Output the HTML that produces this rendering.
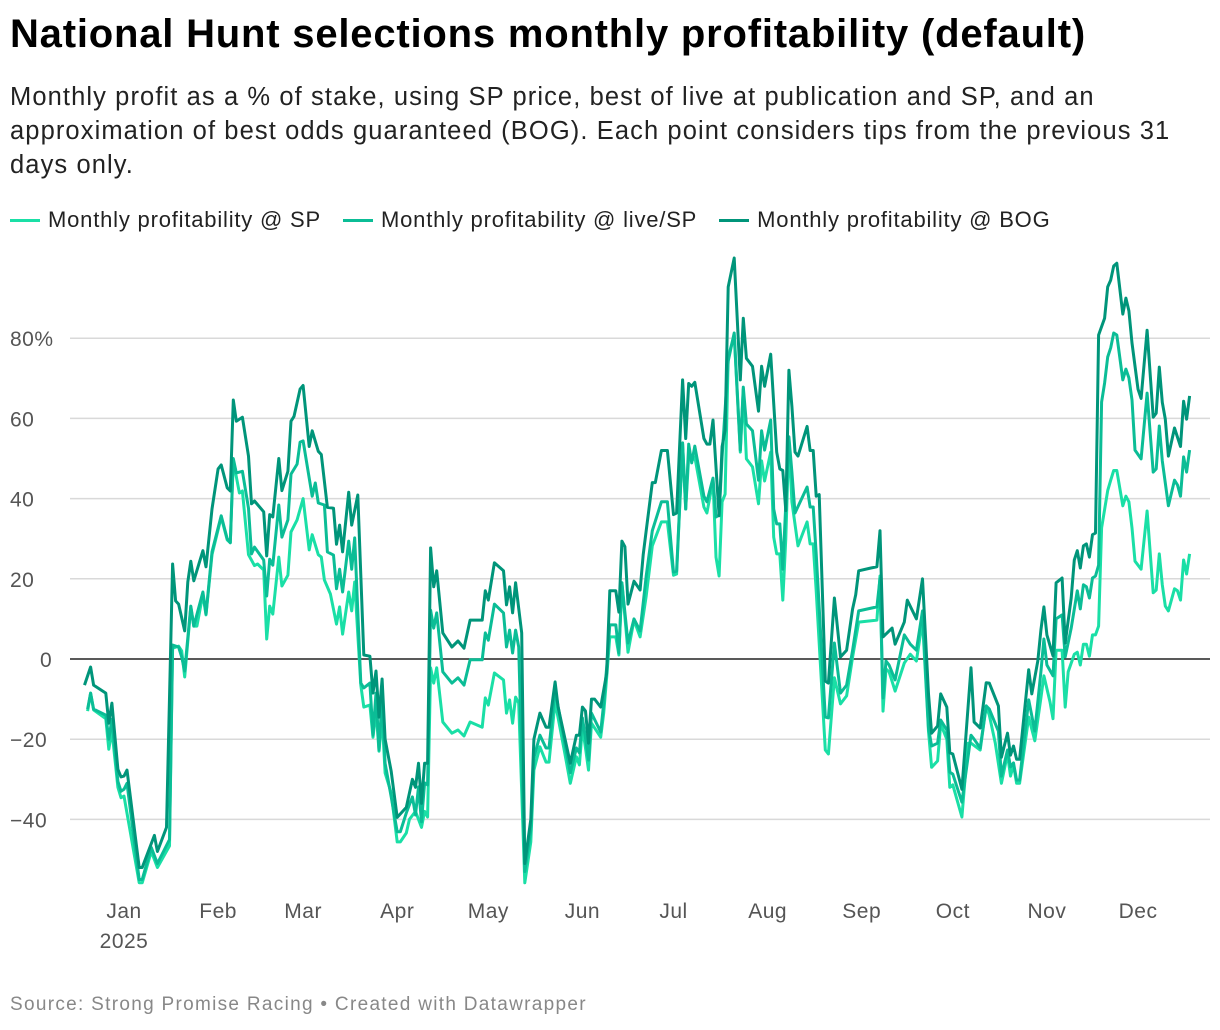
<!DOCTYPE html>
<html><head><meta charset="utf-8"><style>
body{margin:0;background:#fff;font-family:"Liberation Sans",Arial,sans-serif;width:1220px;height:1030px;overflow:hidden;position:relative}
#title{position:absolute;left:10px;top:12px;font-size:40px;font-weight:bold;color:#000;letter-spacing:0.8px;white-space:nowrap}
#sub{position:absolute;left:10px;top:80px;font-size:25.5px;line-height:34px;color:#222;letter-spacing:1.1px;white-space:nowrap}
#legend{position:absolute;left:10px;top:207px;font-size:22px;color:#222;display:flex;gap:22px;letter-spacing:0.8px;white-space:nowrap}
.lg{display:flex;align-items:center;gap:8px}.sw{width:30px;height:3px}
#src{position:absolute;left:10px;top:994px;font-size:19px;color:#888;letter-spacing:1.3px}
svg{position:absolute;left:0;top:0}
</style></head><body>
<div id="title">National Hunt selections monthly profitability (default)</div>
<div id="sub">Monthly profit as a % of stake, using SP price, best of live at publication and SP, and an<br>approximation of best odds guaranteed (BOG). Each point considers tips from the previous 31<br>days only.</div>
<div id="legend">
<div class="lg"><div class="sw" style="background:#1adfa6"></div>Monthly profitability @ SP</div>
<div class="lg"><div class="sw" style="background:#0bbd96"></div>Monthly profitability @ live/SP</div>
<div class="lg"><div class="sw" style="background:#00957a"></div>Monthly profitability @ BOG</div>
</div>
<svg id="chart" width="1220" height="1030"></svg>
<div id="src">Source: Strong Promise Racing • Created with Datawrapper</div>
<script>
const monthLabels=["Jan","Feb","Mar","Apr","May","Jun","Jul","Aug","Sep","Oct","Nov","Dec"];
const monthStartDays=[0,31,59,90,120,151,181,212,243,273,304,334];
const yTicks=[-40,-20,20,40,60,80];
const spDays=[-12,-11,-10,-6,-5,-4,-2,-1,0,5,6,9,11,15,16,18,19,20,22,23,24,26,27,29,32,34,35,36,38,39,41,43,44,46,47,48,49,51,52,54,55,57,59,61,62,64,65,66,68,70,71,72,74,75,76,78,79,81,82,83,84,85,86,88,90,91,93,94,96,98,99,100,101,102,103,105,108,110,112,114,118,119,120,122,125,126,127,128,129,130,132,134,135,137,139,140,142,145,147,149,150,151,152,153,154,157,158,159,160,162,163,164,166,168,170,172,174,177,179,181,182,184,185,186,187,188,191,192,194,195,196,197,198,199,201,203,204,205,207,209,210,211,213,214,215,216,217,218,219,220,222,225,226,227,228,231,232,234,236,238,240,242,248,249,250,251,252,254,257,259,261,263,265,266,268,269,271,272,273,276,278,279,282,284,285,287,289,291,292,293,294,295,298,300,302,303,305,306,307,309,310,311,313,314,315,316,317,318,319,320,321,322,324,325,326,327,329,330,331,332,333,335,337,339,340,341,342,343,344,346,347,348,349,350,351];
const spValues=[-13,-8.5,-12.7,-14.9,-22.5,-17.8,-32,-34.6,-34.2,-55.8,-55.8,-48,-52,-46.6,2.7,3.2,2,-4.5,13,8.2,8.2,16.2,11,26,35.4,29.7,29,49.4,41.4,41.9,26,23.3,23.7,22.2,5,13.2,11.2,25.4,18.2,20.9,31.7,34.7,40,27.2,31,26,25.4,19.7,16.2,8.7,13,6.2,16.7,12,19.2,-6.5,-12,-11.5,-19.5,-12.7,-23,-14.5,-28.4,-33.4,-45.6,-45.6,-43.4,-40,-38,-42,-38,-39.4,-2.2,-6,-2.2,-15.7,-18.5,-17.7,-19.2,-15.7,-17,-9.7,-11.5,-3.5,-5.2,-13.5,-10.2,-16,-9.5,-11,-55.8,-45.6,-27.7,-21.9,-25.7,-25.7,-10.7,-22.7,-31,-24.4,-26.4,-17,-22.2,-27.7,-16,-19.5,-13.5,-4.5,5.5,5.5,1,19,1.7,9.7,5.5,15.7,28.2,34.2,34.2,20.9,21.2,53.6,37.4,50.4,49.4,50.4,37.9,36.4,44.6,25.4,20.7,39.2,41.1,75.3,80.8,51.6,67.3,49.9,47.9,38.7,49.4,44.4,51.6,30.4,26.2,26.2,14.7,30,54.9,39.2,28.2,34.2,28.7,28.7,17,-22.7,-23.7,-4.7,-11.2,-9.2,0.5,9.2,9.7,20.7,-13,-2.5,-3.2,-8,-1,1.2,-0.5,9.7,-18,-27,-25.4,-16.2,-20,-32,-31.4,-39.4,-21,-21,-22.7,-11.7,-14,-21,-31,-23.7,-29.2,-26.4,-31,-31,-14.5,-20.4,-9.7,-4.2,-10.7,-14.9,2.2,2.2,-12,-3.2,1.2,1.7,-1.5,3.7,3.7,0.7,6,6,8.2,32.7,42,44.6,47,47,38.2,40.6,39.2,32.7,24.4,22.4,36.9,16.5,17.2,26.2,18.5,13.2,12,17.5,17,14.7,24.7,21.2,26.2];
const liveDays=[-12,-11,-10,-6,-5,-4,-2,-1,0,1,5,6,9,11,15,16,18,19,20,22,23,26,27,29,32,34,35,36,37,39,41,42,43,46,47,48,49,51,52,54,55,57,58,59,62,63,64,66,67,69,70,71,72,74,75,76,78,79,81,82,83,84,85,86,88,90,91,93,95,96,97,98,99,100,101,102,103,105,108,110,112,114,118,119,120,122,125,126,127,128,129,130,132,134,135,137,139,140,142,145,147,149,150,151,152,153,154,157,158,159,160,162,163,164,166,168,170,172,174,177,179,181,182,184,185,186,187,188,191,192,194,195,196,197,199,201,203,204,205,207,209,210,211,213,214,215,216,217,219,220,221,225,226,227,228,231,232,234,236,238,240,242,248,249,250,251,252,254,257,259,261,263,265,266,268,269,271,272,273,276,279,280,282,284,285,288,289,291,292,293,294,295,298,300,302,303,304,306,307,309,310,312,314,315,316,317,318,319,320,321,322,323,324,325,326,327,329,330,331,332,333,335,337,339,340,341,342,343,344,346,347,348,349,350,351];
const liveValues=[-12.5,-8.5,-12.5,-14,-20,-15,-30.5,-33,-32.5,-31,-55,-55,-47,-51,-45,3.5,3,0.5,-3,13.2,8.2,16.7,11.2,26.7,35.7,30,29,50,46.4,46.8,37.6,26.2,27.9,24.7,15.7,24.9,23.4,38.4,30.4,34.7,46.1,48.6,54.1,54.4,40.6,43.9,38.9,38.4,26.7,25.9,17.5,22.4,16.7,29.4,22.4,30.2,-6,-7.2,-6,-19,-8.5,-22.7,-9.5,-26,-34.4,-43.1,-43.1,-38.4,-34.4,-38.9,-31.9,-40.6,-30.9,-31.4,12.2,7.7,11.5,-3.2,-6,-4.7,-6.5,-0.2,-0.2,6.5,4.7,13.7,11.5,3,7.2,1.5,7.2,3,-53,-42.6,-24.7,-19,-22.2,-22.2,-7.7,-20.2,-28.4,-22.2,-23.4,-14.7,-19.7,-25.2,-13.5,-18.2,-11,-2,8.5,8.5,1.5,19,4,10,7,20.7,32,39.2,39.2,21.7,21.9,53.9,37.4,53.6,48.9,53.1,40.6,39.2,45.1,35.4,35.9,50.4,74.3,81.3,52.1,67.8,58.6,56.9,44.6,56.9,52.1,59.6,37.4,33.7,33.7,22.4,55.4,46.6,36.4,42.9,37.9,37.9,26.2,-14.5,-14.7,4,-8.5,-6.5,2.2,12,13,20,-9.7,-0.5,-1.5,-5.2,6,3.7,2.2,12,-17.2,-21.7,-21,-15.2,-17.7,-28.2,-28.7,-35.7,-19,-20,-22.2,-11.7,-12.5,-18,-29.2,-22.7,-26.9,-25.9,-30.2,-30.2,-10.2,-18,-3.2,5,-1.5,-4.2,10,11,0.5,7.7,17,12.5,18.5,18,15.2,20.2,20.7,23.4,64.1,68.8,75.3,77.6,81.3,80.8,69.6,72.3,70.1,64.6,52.1,49.9,66.3,46.6,47.4,58.1,49.4,43.9,38.2,44.6,43.4,40.6,50.4,46.6,52.1];
const bogDays=[-13,-11,-10,-6,-5,-4,-2,-1,0,1,5,6,10,11,14,16,17,18,20,21,22,23,26,27,29,31,32,34,35,36,37,39,41,42,43,46,47,48,49,51,52,54,55,56,58,59,61,62,64,65,67,69,70,71,72,74,75,77,79,81,82,83,84,85,86,88,90,93,95,96,97,98,99,100,101,102,103,105,108,110,112,114,118,119,120,122,125,126,127,128,129,131,132,134,135,137,139,140,142,143,147,149,150,151,152,153,154,155,157,159,160,162,163,164,165,166,168,170,171,172,174,175,177,179,181,182,184,185,186,187,188,191,192,193,194,196,197,198,199,201,203,204,205,207,209,210,211,213,215,216,217,218,219,220,221,222,225,226,227,228,229,231,232,234,236,238,240,241,242,246,248,249,250,253,254,257,258,261,263,265,266,268,269,271,272,273,276,279,280,282,284,285,288,289,291,292,293,294,295,298,299,301,302,303,304,306,307,309,310,312,313,314,315,316,317,318,319,320,321,323,324,325,326,327,329,330,331,332,334,335,337,339,340,341,342,343,344,346,348,349,350,351];
const bogValues=[-6.5,-2,-6.5,-8.5,-16,-11,-27.5,-29.4,-29.2,-27.7,-52,-52,-44,-48,-42,23.7,14.5,13.7,7,19.2,24.4,19.5,27,23,37.4,47.4,48.4,42.7,41.9,64.6,59.3,60.3,50.6,38.7,39.4,36.7,25.7,36,35.4,50,42,46.8,59.3,60.5,67.3,68.2,53,56.9,51.8,51,37.8,37.6,28.6,33.4,26.7,41.6,33.4,40.9,1,0.7,-8.5,-3,-14.5,-5,-20,-28,-39.5,-37,-30,-32,-26,-36,-26,-26,27.7,18,22,6.5,3,4.5,2.7,9.7,9.7,17,14.7,24,22,13.5,18,11.5,19,6.5,-51,-40,-20,-13.5,-17,-17,-5.7,-12,-26,-19,-19,-12,-13,-21,-10,-10,-12,-3.5,17,17,11.7,29.4,28,13.7,19.4,17.2,26,32,44,44,52,52,36,36.4,69.6,55,68.7,68,69,55,53.6,53.6,59.6,35.7,53,57,92.8,100,69.6,85,75,73,61.8,73,68,76,51.6,47.4,47,37,72,63,51.6,50.6,58,52,52,40.6,41,-5.5,-6,15.2,0.5,2.2,12.5,16,22,22.7,23,32,5.5,7.7,3.7,9.2,14.7,10,20,-8.7,-18.5,-16.7,-8.7,-12,-23.4,-23.7,-32.5,-2.2,-15.7,-17.2,-5.9,-6,-11.7,-24.5,-18.5,-24,-21.7,-25,-25,-2.7,-8.7,-0.5,7.2,13,6,0.8,19,20.2,4,15.2,24.7,27,22.7,28.2,28.7,25.4,31,31.4,80.8,85,92.8,94.5,98,98.7,86,90,86.8,78.8,67.3,65,82,60.3,61.3,72.8,64,59.8,50.6,57.6,53,64.3,59.8,65.6];

const NS="http://www.w3.org/2000/svg";
const svg=document.getElementById('chart');
const X0=70,X1=1210;
function xScale(d){return 124+d*3.036;}
function yScale(v){return 659-v*4.01;}
function mk(tag,attrs,parent){const e=document.createElementNS(NS,tag);for(const k in attrs)e.setAttribute(k,attrs[k]);(parent||svg).appendChild(e);return e;}
yTicks.forEach(t=>{
  const y=yScale(t);
  const g=mk('line',{x1:X0,x2:X1,y1:y,y2:y,stroke:'#d9d9d9','stroke-width':1.5});
  
  
  const lab=mk('text',{x:10,y:y+8,'font-size':21,fill:'#555','font-family':'Liberation Sans, sans-serif','letter-spacing':0.5});
  lab.textContent=(t<0?'\u2212'+(-t):String(t))+(t===80?'%':'');
  
  
});
const z=mk('line',{x1:X0,x2:X1,y1:yScale(0),y2:yScale(0),stroke:'#222','stroke-width':1.5});


const zl=mk('text',{x:40,y:yScale(0)+8,'font-size':21,fill:'#555','font-family':'Liberation Sans, sans-serif'});
zl.textContent='0';


monthLabels.forEach((m,i)=>{
  const t=mk('text',{x:xScale(monthStartDays[i]),y:918,'font-size':21,fill:'#555','text-anchor':'middle','font-family':'Liberation Sans, sans-serif','letter-spacing':0.5});
  t.textContent=m;
  
  
});
const yr=mk('text',{x:xScale(0),y:948,'font-size':21,fill:'#555','text-anchor':'middle','font-family':'Liberation Sans, sans-serif','letter-spacing':0.5});
yr.textContent='2025';


function drawLine(days,vals,color,name){
  const d=days.map((dd,i)=>(i?'L':'M')+xScale(dd).toFixed(1)+','+yScale(vals[i]).toFixed(1)).join('');
  const p=mk('path',{d:d,fill:'none',stroke:color,'stroke-width':3,'stroke-linejoin':'round'});
  
  
}
drawLine(spDays,spValues,'#1adfa6','line-sp');
drawLine(liveDays,liveValues,'#0bbd96','line-live-sp');
drawLine(bogDays,bogValues,'#00957a','line-bog');
</script>
</body></html>
